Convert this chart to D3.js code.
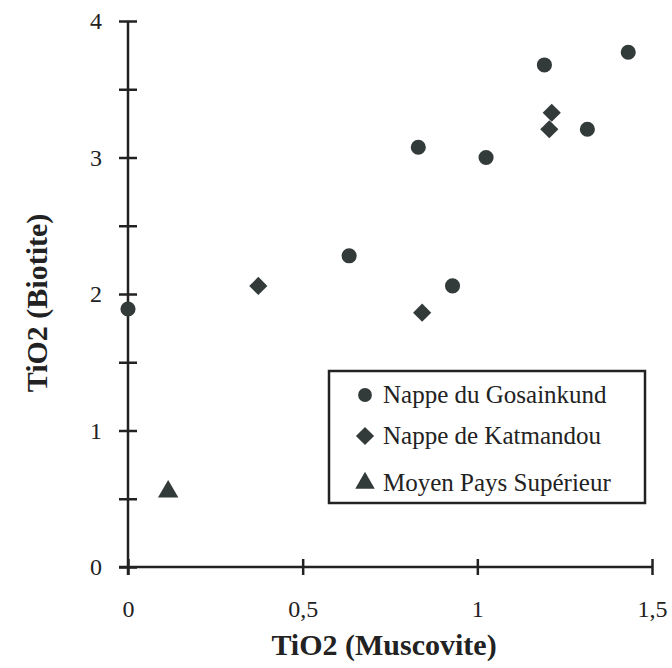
<!DOCTYPE html>
<html>
<head>
<meta charset="utf-8">
<script src="https://cdn.jsdelivr.net/npm/d3@7"></script>
<style>
  body { margin: 0; background: #fff; }
  svg text { font-family: "Liberation Serif", "Times New Roman", serif; fill: #222; }
</style>
</head>
<body>
<svg id="chart" width="672" height="668"></svg>
<script>
// Nappe du Gosainkund
var gosainkundX = [0.0, 0.633, 0.831, 0.929, 1.025, 1.192, 1.315, 1.432];
var gosainkundY = [1.89, 2.28, 3.075, 2.06, 3.0, 3.678, 3.207, 3.771];
// Nappe de Katmandou
var katmandouX = [0.373, 0.842, 1.213, 1.206];
var katmandouY = [2.059, 1.863, 3.328, 3.207];
// Moyen Pays Supérieur
var moyenX = [0.115];
var moyenY = [0.552];

var seriesNames = ["Nappe du Gosainkund", "Nappe de Katmandou", "Moyen Pays Supérieur"];
var xTicks = [0, 0.5, 1, 1.5];
var yTicks = [0, 0.5, 1, 1.5, 2, 2.5, 3, 3.5, 4];

var ink = "#222";
var markColor = "#333a3a";

var svg = d3.select("#chart");

var xScale = d3.scaleLinear().domain([0, 1.5]).range([128, 652]);
var yScale = d3.scaleLinear().domain([0, 4]).range([567, 21]);

function fmt(d) {
  return String(d).replace(".", ",");
}

// y axis
var yAxis = d3.axisLeft(yScale)
  .tickValues(yTicks)
  .tickSize(9)
  .tickSizeOuter(0)
  .tickPadding(17)
  .tickFormat(function (d) { return d % 1 === 0 ? fmt(d) : ""; });

var gy = svg.append("g")
  .attr("transform", "translate(" + xScale(0) + ",0)")
  .call(yAxis);
gy.select(".domain").attr("stroke", ink).attr("stroke-width", 2.5)
  .attr("d", "M0," + yScale(4) + "V" + (yScale(0) + 8));
gy.selectAll(".tick line").attr("x1", -9).attr("x2", 9)
  .attr("stroke", ink).attr("stroke-width", 2.5);
gy.selectAll(".tick text").style("font-size", "24px").attr("fill", ink);

// x axis
var xAxis = d3.axisBottom(xScale)
  .tickValues(xTicks)
  .tickSize(8)
  .tickSizeOuter(0)
  .tickPadding(25)
  .tickFormat(fmt);

var gx = svg.append("g")
  .attr("transform", "translate(0," + yScale(0) + ")")
  .call(xAxis);
gx.select(".domain").attr("stroke", ink).attr("stroke-width", 2.5)
  .attr("d", "M" + (xScale(0) - 9) + ",0H" + xScale(1.5));
gx.selectAll(".tick line").attr("y1", -8).attr("y2", 8)
  .attr("stroke", ink).attr("stroke-width", 2.5);
gx.selectAll(".tick text").style("font-size", "24px").attr("fill", ink);

// axis titles
svg.append("text")
  .attr("x", 384)
  .attr("y", 655)
  .attr("text-anchor", "middle")
  .style("font-size", "30px")
  .style("font-weight", "bold")
  .text("TiO2 (Muscovite)");

svg.append("text")
  .attr("transform", "translate(47,303) rotate(-90)")
  .attr("text-anchor", "middle")
  .style("font-size", "30px")
  .style("font-weight", "bold")
  .text("TiO2 (Biotite)");

// marks
var circle = d3.symbol().type(d3.symbolCircle).size(180);
var diamond = d3.symbol().type(d3.symbolSquare).size(165);
var triangle = d3.symbol().type(d3.symbolTriangle).size(180);

var series = [
  { xs: gosainkundX, ys: gosainkundY, sym: circle, rot: 0 },
  { xs: katmandouX, ys: katmandouY, sym: diamond, rot: 45 },
  { xs: moyenX, ys: moyenY, sym: triangle, rot: 0 }
];

series.forEach(function (s) {
  svg.append("g")
    .selectAll("path")
    .data(s.xs.map(function (x, i) { return { x: x, y: s.ys[i] }; }))
    .enter()
    .append("path")
    .attr("d", s.sym())
    .attr("fill", markColor)
    .attr("transform", function (d) {
      return "translate(" + xScale(d.x) + "," + yScale(d.y) + ") rotate(" + s.rot + ")";
    });
});

// legend
var legend = svg.append("g");
legend.append("rect")
  .attr("x", 329)
  .attr("y", 371)
  .attr("width", 316)
  .attr("height", 132)
  .attr("fill", "#fff")
  .attr("stroke", ink)
  .attr("stroke-width", 2.5);

var legendRows = [395, 436, 483];
seriesNames.forEach(function (name, i) {
  legend.append("path")
    .attr("d", series[i].sym.size(i === 0 ? 150 : 165)())
    .attr("fill", markColor)
    .attr("transform", "translate(365," + legendRows[i] + ") rotate(" + series[i].rot + ")");
  legend.append("text")
    .attr("x", 383)
    .attr("y", legendRows[i] + 8)
    .style("font-size", "25px")
    .text(name);
});
</script>
</body>
</html>
